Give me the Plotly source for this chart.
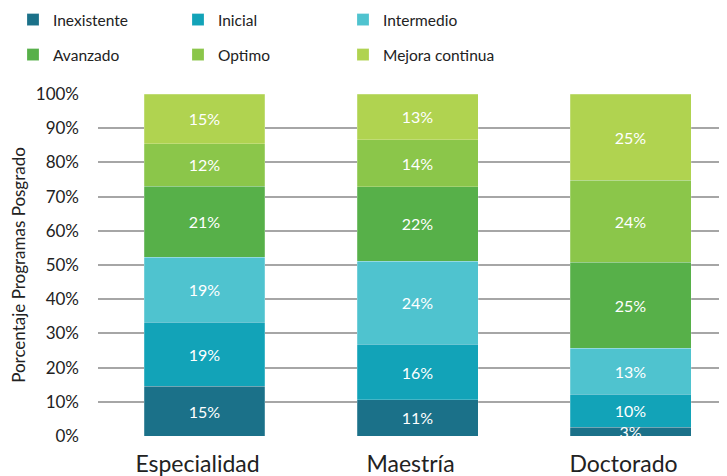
import plotly.graph_objects as go

categories = ["Especialidad", "Maestría", "Doctorado"]
series_names = ["Inexistente", "Inicial", "Intermedio", "Avanzado", "Optimo", "Mejora continua"]
inexistente = [14.6, 10.6, 2.6]
inicial = [18.6, 16.2, 9.6]
intermedio = [19.1, 24.3, 13.4]
avanzado = [20.8, 21.8, 25.2]
optimo = [12.3, 13.7, 24.0]
mejora = [14.6, 13.4, 25.2]
y_ticks = [0, 10, 20, 30, 40, 50, 60, 70, 80, 90, 100]
y_ticklabels = [f"{v}%" for v in y_ticks]

series_values = [inexistente, inicial, intermedio, avanzado, optimo, mejora]
colors = ["#1b7189", "#12a3b8", "#4fc3cf", "#57b049", "#8bc64a", "#b0d350"]
legend_ids = ["legend", "legend", "legend", "legend2", "legend2", "legend2"]

FONT = "Lato"
TXT = "#222222"
W, H = 727, 476
OFF = 8  # page body margin offset

fig = go.Figure()
for name, vals, col, lg in zip(series_names, series_values, colors, legend_ids):
    fig.add_trace(go.Bar(
        x=categories, y=vals, name=name, legend=lg,
        marker=dict(color=col, line=dict(width=0.6, color="rgba(255,255,255,0.35)")),
        text=[f"{round(v):d}%" for v in vals],
        textposition="inside", insidetextanchor="middle",
        textfont=dict(color="white", size=16, family=FONT),
        constraintext="none", cliponaxis=True,
        hoverinfo="skip",
    ))

legend_common = dict(
    orientation="h", xref="container", yref="container",
    x=5 / W, xanchor="left", yanchor="middle",
    entrywidth=120, entrywidthmode="pixels",
    font=dict(size=15.5, family=FONT, color=TXT),
    traceorder="normal", bgcolor="rgba(0,0,0,0)",
)

fig.update_layout(
    width=W, height=H,
    barmode="stack", bargap=0.432,
    plot_bgcolor="white", paper_bgcolor="white",
    margin=dict(l=98 - OFF, r=OFF, t=94 - OFF, b=H - 436 + OFF, autoexpand=False),
    font=dict(family=FONT, color=TXT),
    uniformtext=dict(mode="show", minsize=16),
    legend=dict(legend_common, y=1 - (20 - OFF) / H),
    legend2=dict(legend_common, y=1 - (55 - OFF) / H),
    xaxis=dict(
        range=[-0.5, 2.453], showgrid=False, showline=False, zeroline=False,
        tickfont=dict(size=23, family=FONT, color=TXT), ticks="",
        ticklabelstandoff=12, ticklabelshift=-7,
    ),
    yaxis=dict(
        range=[0, 100], tickvals=y_ticks, ticktext=y_ticklabels,
        showgrid=True, gridcolor="#a6a6a6", gridwidth=1.5, zeroline=False,
        showline=False, ticks="", ticklabelstandoff=18,
        tickfont=dict(size=17, family=FONT, color=TXT),
        title=dict(text="Porcentaje Programas Posgrado",
                   font=dict(size=17, family=FONT, color=TXT), standoff=5),
    ),
)
fig.write_html("out.html")
